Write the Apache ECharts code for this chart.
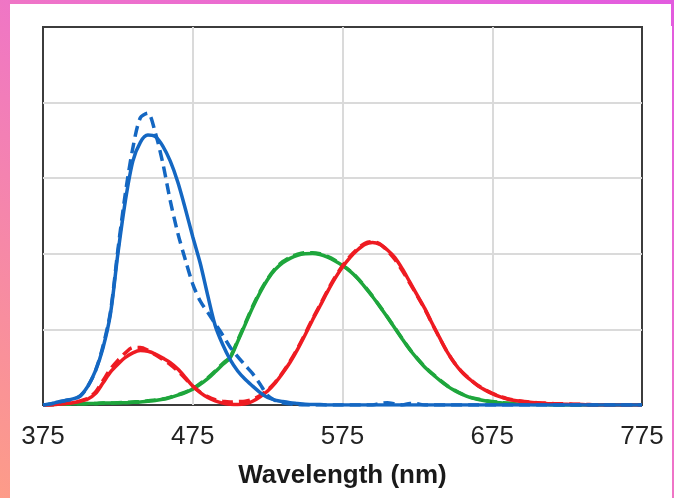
<!DOCTYPE html>
<html>
<head>
<meta charset="utf-8">
<script src="https://cdn.jsdelivr.net/npm/echarts@6/dist/echarts.min.js"></script>
<style>
  html, body { margin: 0; padding: 0; }
  body {
    width: 674px;
    height: 498px;
    position: relative;
    overflow: hidden;
    background: linear-gradient(to bottom left, #e25bdf 0%, #ee72cb 45%, #fd9c88 100%);
  }
  .panel {
    position: absolute;
    left: 10px;
    top: 4px;
    width: 661px;
    height: 494px;
    background: #fff;
  }
  .panel2 {
    position: absolute;
    left: 670px;
    top: 26px;
    width: 2px;
    height: 472px;
    background: #fff;
  }
  #chart {
    position: absolute;
    left: 0;
    top: 0;
    width: 674px;
    height: 498px;
  }
</style>
</head>
<body>
<div class="panel"></div>
<div class="panel2"></div>
<div id="chart"></div>
<script>
// wavelength grid (nm), 5 nm steps
const wavelengths = [375,380,385,390,395,400,405,410,415,420,425,430,435,440,445,450,455,460,465,470,
  475,480,485,490,495,500,505,510,515,520,525,530,535,540,545,550,555,560,565,570,
  575,580,585,590,595,600,605,610,615,620,625,630,635,640,645,650,655,660,665,670,
  675,680,685,690,695,700,705,710,715,720,725,730,735,740,745,750,755,760,765,770,775]

const xTicks = [375, 475, 575, 675, 775]

// solid = fit, dashed = measured
const blueFit = [0,0.003,0.008,0.012,0.016,0.025,0.05,0.09,0.15,0.24,0.4,0.54,0.645,0.695,0.714,0.71,0.685,0.645,0.59,0.52,
  0.445,0.375,0.29,0.21,0.16,0.12,0.09,0.068,0.05,0.033,0.02,0.013,0.009,0.006,0.004,0.002,0.001,0.001,0,0,
  0,0,0,0,0,0,0,0,0,0,0,0,0,0,0,0,0,0,0,0,
  0,0,0,0,0,0,0,0,0,0,0,0,0,0,0,0,0,0,0,0,0]
const blueMeas = [0,0.003,0.007,0.012,0.015,0.024,0.05,0.09,0.155,0.245,0.41,0.56,0.68,0.76,0.772,0.72,0.64,0.54,0.455,0.385,
  0.32,0.275,0.245,0.215,0.185,0.153,0.128,0.105,0.083,0.055,0.025,0.012,0.006,0.003,0.001,0,0,0,0,0,
  0,0,0,0,0,0.004,0.006,0.003,0,0.004,0.003,0,0,0,0,0,0,0,0,0,
  0,0,0,0,0,0,0,0,0,0,0,0,0,0,0,0,0,0,0,0,0]
const redFit = [0,0,0.002,0.004,0.006,0.01,0.016,0.03,0.058,0.087,0.108,0.126,0.138,0.144,0.142,0.135,0.124,0.112,0.095,0.073,
  0.05,0.033,0.02,0.011,0.005,0.002,0.001,0.003,0.01,0.022,0.037,0.058,0.084,0.113,0.147,0.185,0.225,0.262,0.3,0.335,
  0.365,0.39,0.41,0.425,0.43,0.425,0.41,0.39,0.36,0.325,0.29,0.255,0.215,0.177,0.14,0.11,0.086,0.068,0.052,0.04,
  0.03,0.022,0.016,0.012,0.009,0.007,0.005,0.004,0.003,0.002,0.002,0.001,0.001,0,0,0,0,0,0,0,0]
const redMeas = [0,0,0.002,0.004,0.006,0.011,0.018,0.034,0.064,0.095,0.118,0.138,0.152,0.152,0.145,0.133,0.12,0.107,0.09,0.07,
  0.05,0.034,0.022,0.014,0.01,0.008,0.009,0.01,0.015,0.025,0.04,0.06,0.086,0.116,0.15,0.188,0.228,0.265,0.303,0.338,
  0.368,0.393,0.413,0.428,0.432,0.426,0.408,0.385,0.355,0.322,0.288,0.253,0.214,0.176,0.14,0.11,0.087,0.069,0.053,0.041,
  0.031,0.023,0.017,0.013,0.01,0.008,0.006,0.005,0.004,0.003,0.003,0.002,0.002,0.001,0,0,0,0,0,0,0]
const greenFit = [0,0.001,0.002,0.002,0.003,0.003,0.004,0.004,0.005,0.005,0.006,0.006,0.007,0.008,0.01,0.012,0.015,0.02,0.026,0.033,
  0.042,0.055,0.07,0.088,0.107,0.125,0.168,0.213,0.258,0.298,0.332,0.358,0.376,0.388,0.396,0.4,0.401,0.398,0.391,0.381,
  0.369,0.354,0.335,0.312,0.287,0.26,0.232,0.203,0.174,0.146,0.122,0.1,0.082,0.065,0.05,0.038,0.028,0.02,0.015,0.011,
  0.008,0.006,0.004,0.003,0.002,0.002,0.001,0.001,0,0,0,0,0,0,0,0,0,0,0,0,0]
const greenMeas = [0,0.001,0.002,0.002,0.003,0.003,0.004,0.004,0.005,0.005,0.006,0.007,0.008,0.009,0.011,0.013,0.016,0.021,0.027,0.034,
  0.043,0.057,0.072,0.09,0.11,0.128,0.171,0.216,0.261,0.301,0.334,0.361,0.379,0.391,0.399,0.403,0.403,0.4,0.393,0.383,
  0.37,0.355,0.336,0.313,0.288,0.261,0.233,0.204,0.175,0.147,0.123,0.101,0.083,0.066,0.051,0.039,0.029,0.021,0.016,0.012,
  0.009,0.007,0.005,0.004,0.003,0.003,0.002,0.002,0.001,0,0,0,0,0,0,0,0,0,0,0,0]

const BLUE = '#1467c2'
const RED = '#ee1b22'
const GREEN = '#1ea63c'

function pairs(values) {
  return wavelengths.map((w, i) => [w, values[i]])
}

function line(name, values, color, dashed, z) {
  return {
    name: name,
    type: 'line',
    data: pairs(values),
    showSymbol: false,
    smooth: 0.3,
    z: z,
    lineStyle: {
      color: color,
      width: 3.5,
      type: dashed ? [11, 6] : 'solid'
    }
  }
}

let myChart = echarts.init(document.getElementById('chart'))
let option = {
  backgroundColor: 'transparent',
  animation: false,
  grid: {
    left: 43,
    right: 32,
    top: 27,
    bottom: 93,
    show: true,
    borderColor: '#3c3c3c',
    borderWidth: 2,
    backgroundColor: 'transparent'
  },
  xAxis: {
    type: 'value',
    min: xTicks[0],
    max: xTicks[xTicks.length - 1],
    interval: 100,
    name: 'Wavelength (nm)',
    nameLocation: 'middle',
    nameGap: 58,
    nameTextStyle: {
      fontFamily: 'Liberation Sans',
      fontSize: 26,
      fontWeight: 'bold',
      color: '#1a1a1a'
    },
    axisLine: { show: false },
    axisTick: { show: false },
    axisLabel: {
      margin: 19,
      fontFamily: 'Liberation Sans',
      fontSize: 26,
      color: '#222'
    },
    splitLine: {
      show: true,
      showMinLine: false,
      showMaxLine: false,
      lineStyle: { color: '#dadada', width: 2 }
    }
  },
  yAxis: {
    type: 'value',
    min: 0,
    max: 1,
    interval: 0.2,
    axisLine: { show: false },
    axisTick: { show: false },
    axisLabel: { show: false },
    splitLine: {
      show: true,
      showMinLine: false,
      showMaxLine: false,
      lineStyle: { color: '#dadada', width: 2 }
    }
  },
  series: [
    line('green measured', greenMeas, GREEN, true, 2),
    line('green fit', greenFit, GREEN, false, 3),
    line('red measured', redMeas, RED, true, 4),
    line('red fit', redFit, RED, false, 5),
    line('blue measured', blueMeas, BLUE, true, 6),
    line('blue fit', blueFit, BLUE, false, 7)
  ]
}
myChart.setOption(option)
</script>
</body>
</html>
